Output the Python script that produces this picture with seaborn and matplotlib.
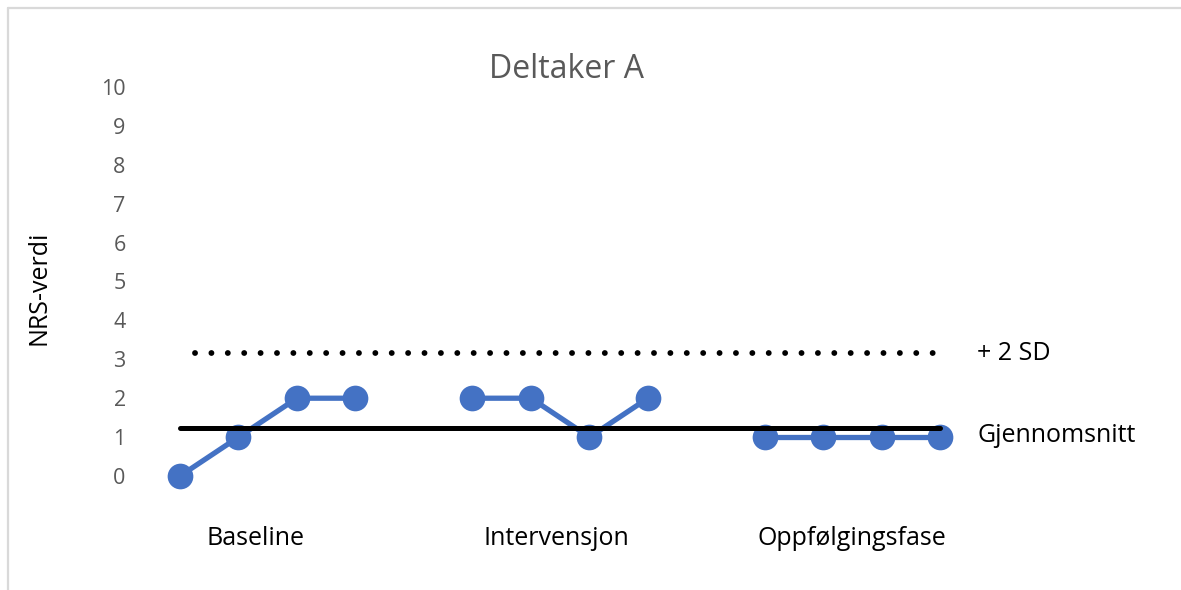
import matplotlib
matplotlib.use("Agg")
import matplotlib.pyplot as plt
import seaborn as sns
import pandas as pd
from matplotlib.lines import Line2D

# Phase data (NRS scores per session)
phases = ["Baseline", "Intervensjon", "Oppfølgingsfase"]
baseline = [0, 1, 2, 2]
intervensjon = [2, 2, 1, 2]
oppfolging = [1, 1, 1, 1]
mean_value = 1.23
plus_2sd = 3.16
y_ticks = list(range(0, 11))

sns.set_theme(style="white")
plt.rcParams["font.family"] = ["Open Sans", "DejaVu Sans"]

BLUE = "#4472C4"
GRAY = "#595959"

fig = plt.figure(figsize=(11.81, 5.90), dpi=100)
ax = fig.add_axes([0.1276, 0.1602, 0.6935, 0.7056])

# sessions laid out on one axis with an empty slot between phases
rows = []
for p_idx, (name, vals) in enumerate(zip(phases, [baseline, intervensjon, oppfolging])):
    for i, v in enumerate(vals):
        rows.append({"fase": name, "x": p_idx * 5 + i, "NRS": v})
df = pd.DataFrame(rows)

for name in phases:
    sns.lineplot(data=df[df["fase"] == name], x="x", y="NRS", ax=ax,
                 color=BLUE, linewidth=3.8, marker="o", markersize=18.5,
                 markeredgewidth=0, zorder=2)

x_start, x_end = df["x"].min(), df["x"].max()
ax.plot([x_start, x_end], [mean_value, mean_value], color="black",
        linewidth=3.6, solid_capstyle="round", zorder=3)
ax.plot([x_start + 0.25, x_end - 0.1], [plus_2sd, plus_2sd], color="black",
        linewidth=4.2, linestyle=(0, (0.01, 2.8)), dash_capstyle="round", zorder=3)

ax.text(13.63, plus_2sd, "+ 2 SD", fontsize=18, color="black", va="center", ha="left")
ax.text(13.63, mean_value - 0.2, "Gjennomsnitt", fontsize=18, color="black",
        va="center", ha="left")

ax.set_xlim(-0.5, 13.5)
ax.set_ylim(-0.5, 10.2)
ax.set_yticks(y_ticks)
ax.set_yticklabels([str(t) for t in y_ticks], fontsize=15.5, color=GRAY)
ax.tick_params(axis="y", length=0, pad=18)
ax.set_xticks([1.3, 6.43, 11.49])
ax.set_xticklabels(phases, fontsize=18, color="black")
ax.tick_params(axis="x", length=0, pad=22)
ax.set_xlabel("")
ax.set_ylabel("NRS-verdi", fontsize=18, color="black", labelpad=36)
for s in ax.spines.values():
    s.set_visible(False)

fig.text(0.48, 0.882, "Deltaker A", fontsize=23, color=GRAY, ha="center", va="center")

# outer chart border (top and left edges)
fig.add_artist(Line2D([8 / 1181, 8 / 1181], [0, 1 - 8 / 590], transform=fig.transFigure,
                      color="#d9d9d9", linewidth=1.6))
fig.add_artist(Line2D([8 / 1181, 1], [1 - 8 / 590, 1 - 8 / 590], transform=fig.transFigure,
                      color="#d9d9d9", linewidth=1.6))

fig.savefig("out.png", dpi=100, facecolor="white")
